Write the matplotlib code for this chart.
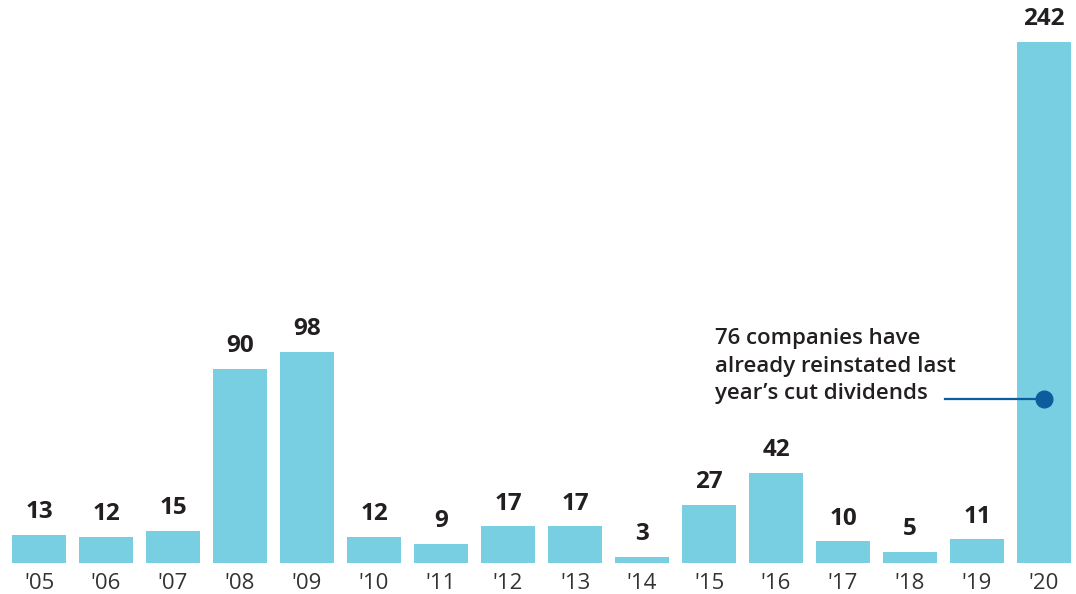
import matplotlib.pyplot as plt
import numpy as np

years = ["'05", "'06", "'07", "'08", "'09", "'10", "'11", "'12", "'13", "'14",
         "'15", "'16", "'17", "'18", "'19", "'20"]
cuts = [13, 12, 15, 90, 98, 12, 9, 17, 17, 3, 27, 42, 10, 5, 11, 242]
reinstated = 76
note = "76 companies have\nalready reinstated last\nyear\u2019s cut dividends"

bar_color = '#78cfe2'
text_color = '#231f20'
dot_color = '#0b5d9e'

plt.rcParams['font.family'] = ['Open Sans', 'DejaVu Sans']

fig = plt.figure(figsize=(10.76, 5.94), dpi=100)
ax = fig.add_axes([0, 31 / 594, 1, 563 / 594])

x = np.arange(len(years))
ax.bar(x, cuts, width=0.806, color=bar_color)

for xi, v in zip(x, cuts):
    ax.text(xi, v + 5, str(v), ha='center', va='bottom', fontsize=17.5,
            fontweight='bold', color=text_color)

ax.set_xlim(-39 / 67, (1076 - 39) / 67)
ax.set_ylim(0, 261.5)
ax.set_xticks(x)
ax.set_xticklabels(years, fontsize=16, color='#333333')
ax.tick_params(axis='x', length=0, pad=7)
ax.set_yticks([])
for s in ax.spines.values():
    s.set_visible(False)

# annotation for 2020
ax.plot([13.52, 15], [reinstated, reinstated], color=dot_color, lw=1.6)
ax.plot(15, reinstated, 'o', color=dot_color, markersize=12)
ax.text(10.09, 91.5, note, ha='left', va='center', fontsize=16,
        fontweight='semibold', color=text_color, linespacing=1.38)

fig.savefig('out.png', dpi=100)
